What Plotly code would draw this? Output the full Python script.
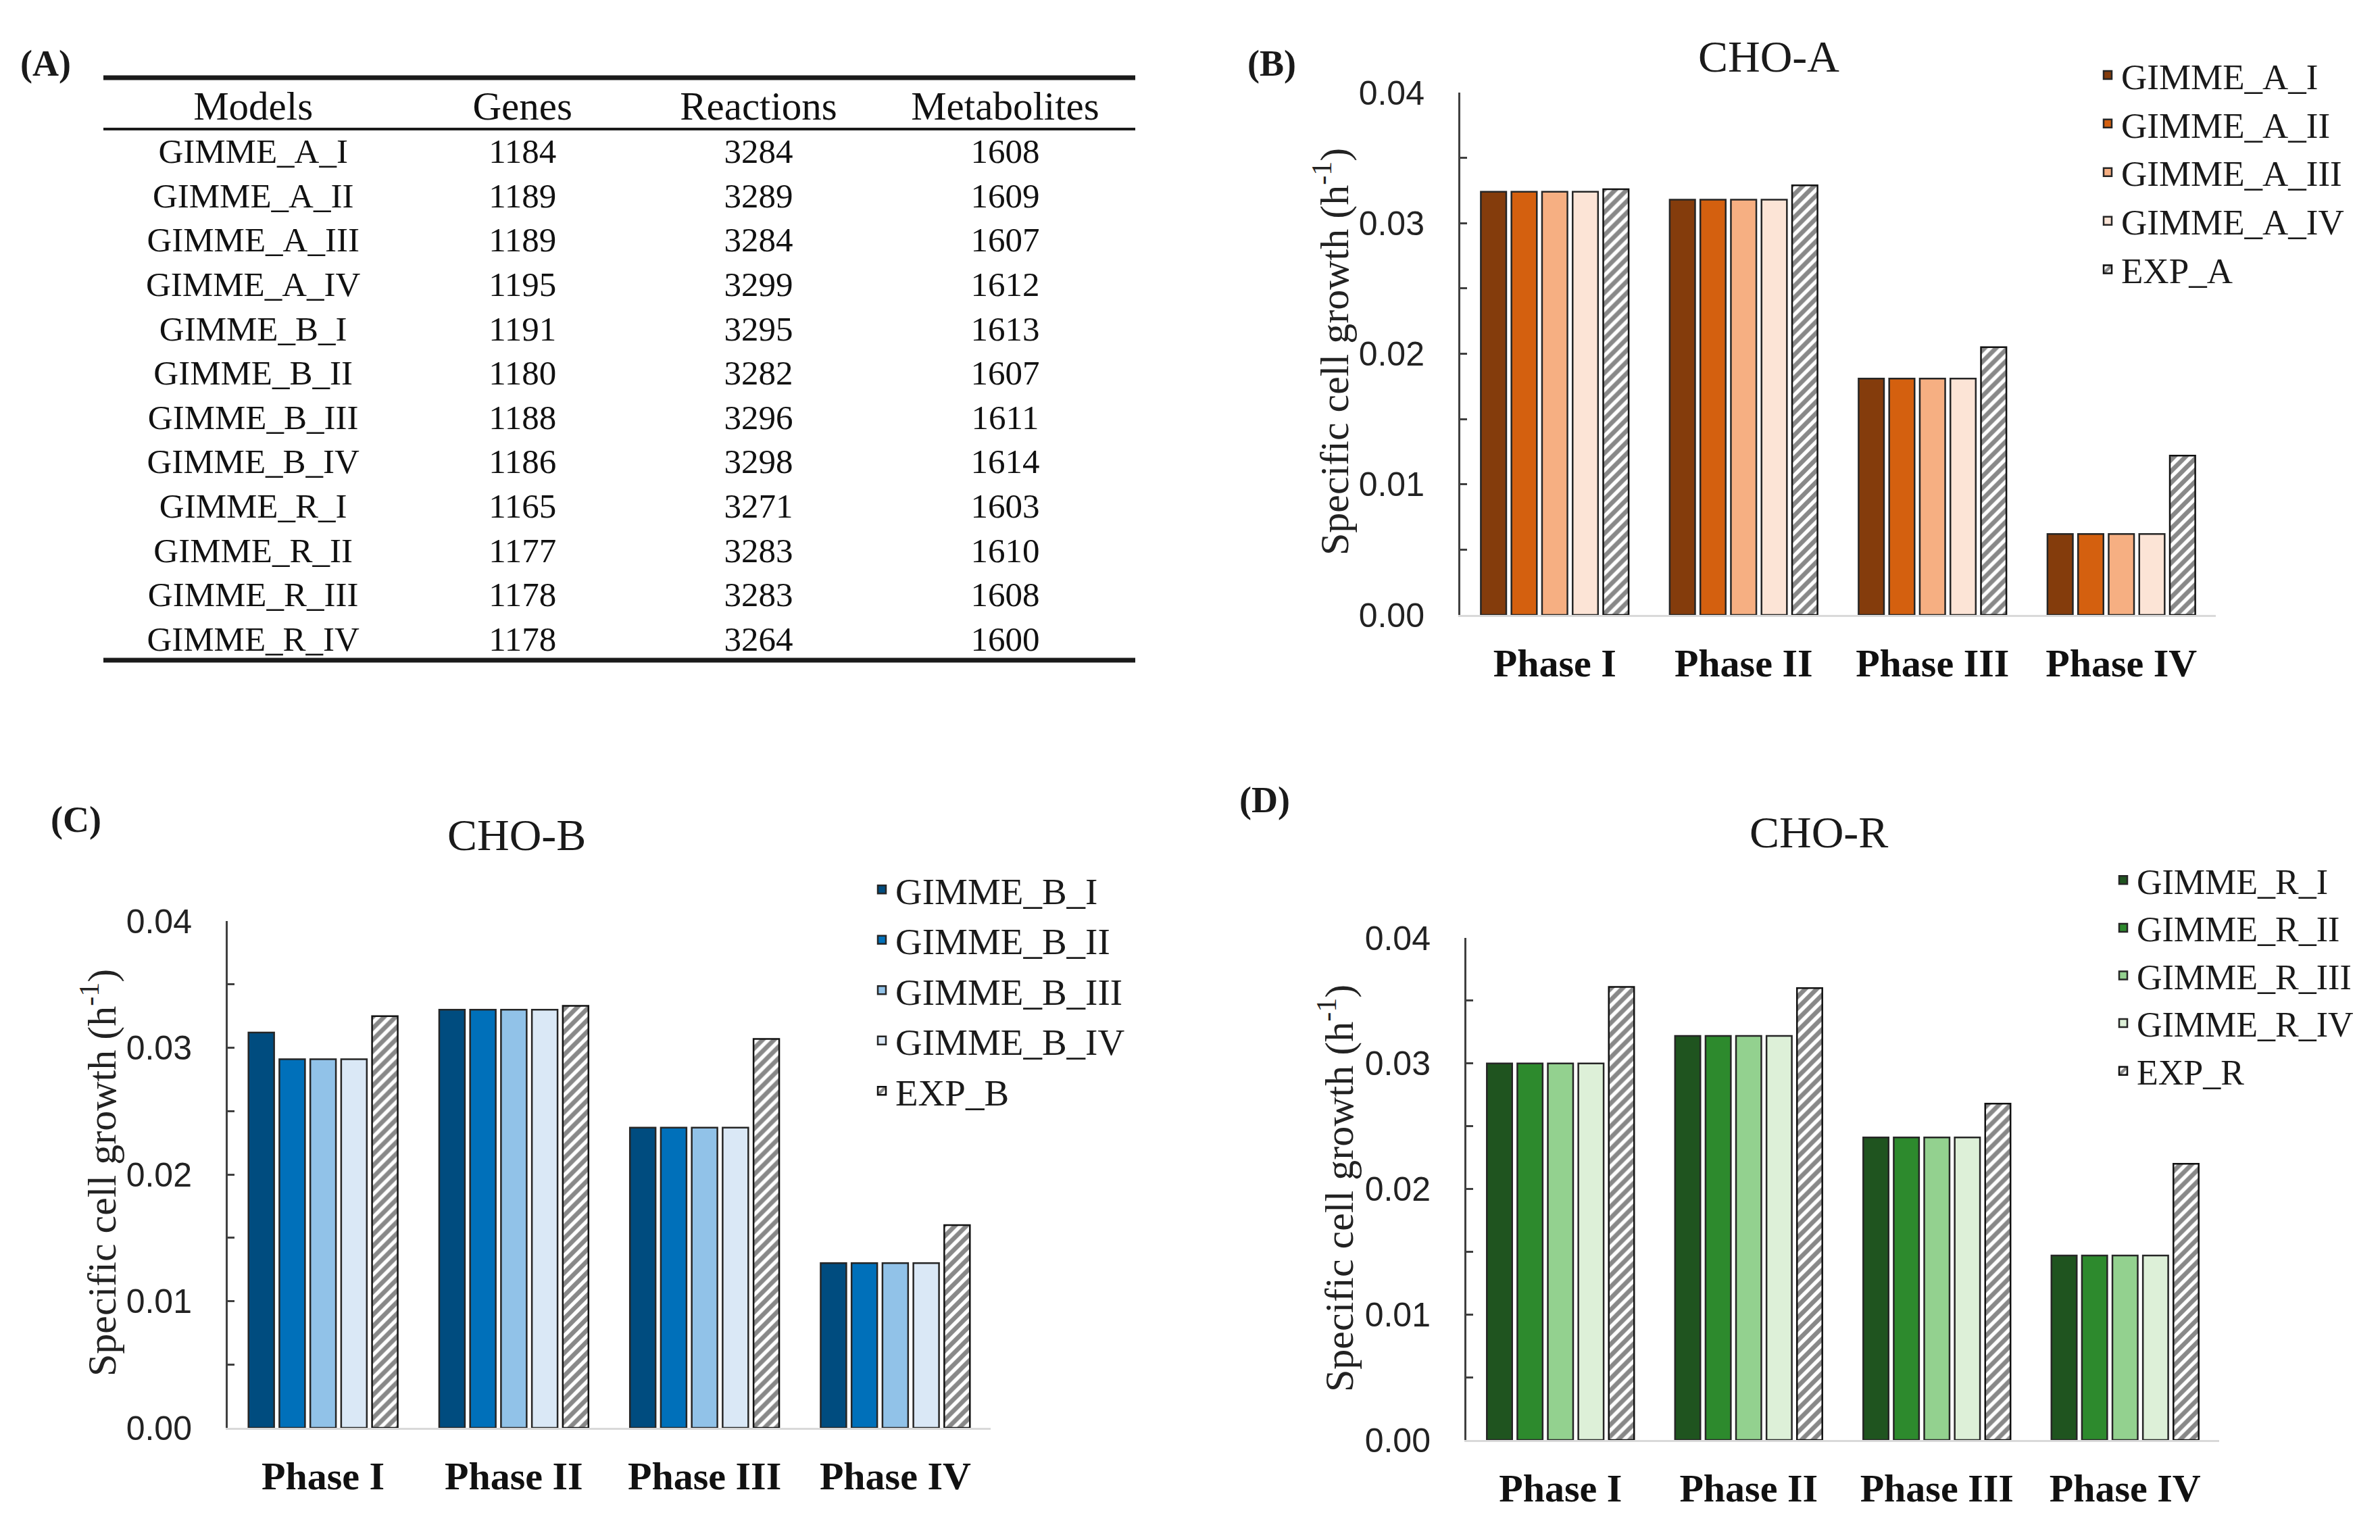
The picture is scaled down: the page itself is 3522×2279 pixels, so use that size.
import plotly.graph_objects as go

# ---------------- data ----------------
phases = ["Phase I", "Phase II", "Phase III", "Phase IV"]

table_headers = ["Models", "Genes", "Reactions", "Metabolites"]
table_models = ["GIMME_A_I", "GIMME_A_II", "GIMME_A_III", "GIMME_A_IV",
                "GIMME_B_I", "GIMME_B_II", "GIMME_B_III", "GIMME_B_IV",
                "GIMME_R_I", "GIMME_R_II", "GIMME_R_III", "GIMME_R_IV"]
table_genes = [1184, 1189, 1189, 1195, 1191, 1180, 1188, 1186, 1165, 1177, 1178, 1178]
table_reactions = [3284, 3289, 3284, 3299, 3295, 3282, 3296, 3298, 3271, 3283, 3283, 3264]
table_metabolites = [1608, 1609, 1607, 1612, 1613, 1607, 1611, 1614, 1603, 1610, 1608, 1600]

cho_a_names = ["GIMME_A_I", "GIMME_A_II", "GIMME_A_III", "GIMME_A_IV", "EXP_A"]
cho_a_gimme_i = [0.0324, 0.0318, 0.0181, 0.0062]
cho_a_gimme_ii = [0.0324, 0.0318, 0.0181, 0.0062]
cho_a_gimme_iii = [0.0324, 0.0318, 0.0181, 0.0062]
cho_a_gimme_iv = [0.0324, 0.0318, 0.0181, 0.0062]
cho_a_exp = [0.0326, 0.0329, 0.0205, 0.0122]

cho_b_names = ["GIMME_B_I", "GIMME_B_II", "GIMME_B_III", "GIMME_B_IV", "EXP_B"]
cho_b_gimme_i = [0.0312, 0.0330, 0.0237, 0.0130]
cho_b_gimme_ii = [0.0291, 0.0330, 0.0237, 0.0130]
cho_b_gimme_iii = [0.0291, 0.0330, 0.0237, 0.0130]
cho_b_gimme_iv = [0.0291, 0.0330, 0.0237, 0.0130]
cho_b_exp = [0.0325, 0.0333, 0.0307, 0.0160]

cho_r_names = ["GIMME_R_I", "GIMME_R_II", "GIMME_R_III", "GIMME_R_IV", "EXP_R"]
cho_r_gimme_i = [0.0300, 0.0322, 0.0241, 0.0147]
cho_r_gimme_ii = [0.0300, 0.0322, 0.0241, 0.0147]
cho_r_gimme_iii = [0.0300, 0.0322, 0.0241, 0.0147]
cho_r_gimme_iv = [0.0300, 0.0322, 0.0241, 0.0147]
cho_r_exp = [0.0361, 0.0360, 0.0268, 0.0220]

y_ticks = [0.0, 0.01, 0.02, 0.03, 0.04]

# ---------------- styles ----------------
SERIF = "Liberation Serif, Times New Roman, serif"
SANS = "Liberation Sans, Arial, sans-serif"
W, H = 3522, 2279
OFF = 8  # page body margin

colors_a = ["#843C0C", "#D4600F", "#F6AF82", "#FCE4D6"]
colors_b = ["#004C7F", "#0070BA", "#91C2E8", "#DAE8F6"]
colors_r = ["#1F541F", "#2D8A2D", "#93D18F", "#DDF0D8"]


def px_x(v):
    return (v - OFF) / W


def px_y(v):
    return 1 - (v - OFF) / H


fig = go.Figure()

# ---------------- table ----------------
fig.add_trace(go.Table(
    domain=dict(x=[px_x(153), px_x(1680)], y=[px_y(1010), px_y(125)]),
    columnwidth=[198, 158, 154, 172],
    header=dict(values=table_headers, height=70, align="center",
                fill_color="white", line=dict(color="white", width=0),
                font=dict(family=SERIF, size=59, color="#111111")),
    cells=dict(values=[table_models, table_genes, table_reactions, table_metabolites],
               height=65.6, align="center",
               fill_color="white", line=dict(color="white", width=0),
               font=dict(family=SERIF, size=51, color="#111111")),
))

# ---------------- bars ----------------
panels = [
    ("x", "y", "legend", cho_a_names,
     [cho_a_gimme_i, cho_a_gimme_ii, cho_a_gimme_iii, cho_a_gimme_iv], cho_a_exp, colors_a),
    ("x2", "y2", "legend2", cho_b_names,
     [cho_b_gimme_i, cho_b_gimme_ii, cho_b_gimme_iii, cho_b_gimme_iv], cho_b_exp, colors_b),
    ("x3", "y3", "legend3", cho_r_names,
     [cho_r_gimme_i, cho_r_gimme_ii, cho_r_gimme_iii, cho_r_gimme_iv], cho_r_exp, colors_r),
]

for xa, ya, lg, names, series, exp, cols in panels:
    for name, vals, c in zip(names[:4], series, cols):
        fig.add_trace(go.Bar(
            x=phases, y=vals, name=name, xaxis=xa, yaxis=ya, legend=lg,
            marker=dict(color=c, line=dict(color="#262626", width=2.5)),
        ))
    fig.add_trace(go.Bar(
        x=phases, y=exp, name=names[4], xaxis=xa, yaxis=ya, legend=lg,
        marker=dict(color="white",
                    pattern=dict(shape="/", fgcolor="#111111", bgcolor="white",
                                 size=12, solidity=0.55),
                    line=dict(color="#111111", width=2.5)),
    ))


def xaxis_cfg(domain, anchor):
    return dict(domain=domain, anchor=anchor, showline=True, linecolor="#d9d9d9",
                linewidth=3, ticks="", showgrid=False, zeroline=False,
                ticklabelstandoff=18, automargin=False,
                tickfont=dict(family=SERIF, size=58, color="#111111", weight="bold"),
                categoryorder="array", categoryarray=phases, fixedrange=True)


def yaxis_cfg(domain, anchor):
    return dict(domain=domain, anchor=anchor, range=[0, 0.04], showline=True,
                linecolor="#404040", linewidth=3, showgrid=False, zeroline=False,
                tickvals=y_ticks, tickformat=".2f", ticks="inside", ticklen=10,
                tickwidth=3, tickcolor="#404040", ticklabelstandoff=40,
                automargin=False,
                minor=dict(dtick=0.005, ticks="inside", ticklen=10, tickwidth=3,
                           tickcolor="#404040"),
                tickfont=dict(family=SANS, size=50, color="#222222"), fixedrange=True)


legend_common = dict(bgcolor="rgba(0,0,0,0)", xanchor="left", yanchor="top",
                     tracegroupgap=0, itemclick=False, itemdoubleclick=False)

fig.update_layout(
    width=W, height=H, margin=dict(l=0, r=0, t=0, b=0, autoexpand=False),
    paper_bgcolor="white", plot_bgcolor="white",
    barmode="group", bargap=0.19, bargroupgap=0.17,
    xaxis=xaxis_cfg([px_x(2161), px_x(3279)], "y"),
    yaxis=yaxis_cfg([px_y(910), px_y(137)], "x"),
    xaxis2=xaxis_cfg([px_x(337), px_x(1466)], "y2"),
    yaxis2=yaxis_cfg([px_y(2113), px_y(1363)], "x2"),
    xaxis3=xaxis_cfg([px_x(2170), px_x(3284)], "y3"),
    yaxis3=yaxis_cfg([px_y(2131), px_y(1388)], "x3"),
    legend=legend_common | dict(x=px_x(3099), y=px_y(70),
                                font=dict(family=SERIF, size=53, color="#1a1a1a")),
    legend2=legend_common | dict(x=px_x(1285), y=px_y(1274),
                                 font=dict(family=SERIF, size=55, color="#1a1a1a")),
    legend3=legend_common | dict(x=px_x(3122), y=px_y(1262),
                                 font=dict(family=SERIF, size=52, color="#1a1a1a")),
    showlegend=True,
)

# ---------------- rules of the table ----------------
for yv, lw in [(115, 7), (191, 4), (977, 7)]:
    fig.add_shape(type="line", xref="paper", yref="paper",
                  x0=px_x(153), x1=px_x(1680), y0=px_y(yv), y1=px_y(yv),
                  line=dict(color="#1a1a1a", width=lw))

# ---------------- texts ----------------
titles = [("CHO-A", 2617, 83), ("CHO-B", 764, 1235), ("CHO-R", 2691, 1231)]
for t, xx, yy in titles:
    fig.add_annotation(text=t, x=px_x(xx), y=px_y(yy), xref="paper", yref="paper",
                       showarrow=False, xanchor="center", yanchor="middle",
                       font=dict(family=SERIF, size=66, color="#1a1a1a"))

letters = [("(A)", 67, 94), ("(B)", 1882, 94), ("(C)", 112, 1213), ("(D)", 1871, 1184)]
for t, xx, yy in letters:
    fig.add_annotation(text="<b>" + t + "</b>", x=px_x(xx), y=px_y(yy),
                       xref="paper", yref="paper", showarrow=False,
                       xanchor="center", yanchor="middle",
                       font=dict(family=SERIF, size=54, color="#1a1a1a"))

ytitle = "Specific cell growth (h<sup>-1</sup>)"
for xx, yy in [(1970, 521), (146, 1736), (1977, 1759)]:
    fig.add_annotation(text=ytitle, x=px_x(xx), y=px_y(yy), xref="paper", yref="paper",
                       showarrow=False, textangle=-90, xanchor="center", yanchor="middle",
                       font=dict(family=SERIF, size=60, color="#222222"))

fig.write_html("out.html")
